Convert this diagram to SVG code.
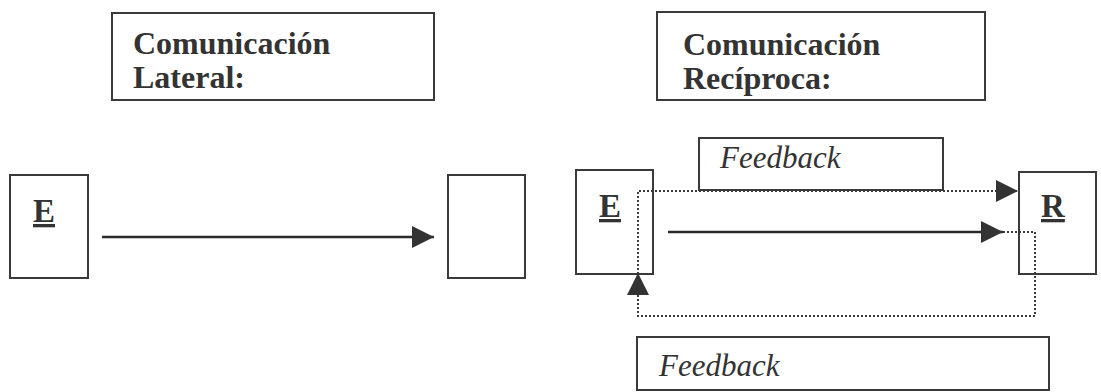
<svg xmlns="http://www.w3.org/2000/svg" width="1101" height="392" viewBox="0 0 1101 392">
  <style>
    .box { fill: #ffffff; stroke: #3a3a3a; stroke-width: 2; }
    .title { font-family: "Liberation Serif", "Times New Roman", serif; font-weight: bold; font-size: 32px; fill: #333333; }
    .letter { font-family: "Liberation Serif", "Times New Roman", serif; font-weight: bold; font-size: 33px; fill: #333333; text-decoration: underline; }
    .fb { font-family: "Liberation Serif", "Times New Roman", serif; font-style: italic; font-size: 31px; fill: #333333; }
    .solid { fill: none; stroke: #2a2a2a; stroke-width: 2.5; }
    .dotted { fill: none; stroke: #3a3a3a; stroke-width: 2; stroke-dasharray: 2 2; }
  </style>
  <defs>
    <!-- filled triangular arrowhead, tip on the path end -->
    <marker id="head" viewBox="0 0 22 22" refX="22" refY="11" markerWidth="22" markerHeight="22" markerUnits="userSpaceOnUse" orient="auto">
      <path d="M0,0 L22,11 L0,22 Z" fill="#333333"/>
    </marker>
  </defs>

  <rect width="1101" height="392" fill="#ffffff"/>

  <!-- Section headings -->
  <g id="title-lateral">
    <rect class="box" x="112" y="13" width="322" height="87"/>
    <text class="title" x="133" y="54">Comunicación</text>
    <text class="title" x="133" y="88">Lateral:</text>
  </g>
  <g id="title-reciproca">
    <rect class="box" x="657" y="12" width="328" height="88"/>
    <text class="title" x="683" y="55">Comunicación</text>
    <text class="title" x="683" y="89">Recíproca:</text>
  </g>

  <!-- Lateral communication -->
  <g id="emisor-lateral">
    <rect class="box" x="10" y="175" width="78" height="103"/>
    <text class="letter" x="33" y="222">E</text>
  </g>
  <g id="receptor-lateral">
    <rect class="box" x="448" y="175" width="77" height="103"/>
  </g>

  <!-- Reciprocal communication -->
  <g id="emisor">
    <rect class="box" x="576" y="170" width="77" height="104"/>
    <text class="letter" x="599" y="217">E</text>
  </g>
  <g id="receptor">
    <rect class="box" x="1019" y="172" width="77" height="102"/>
    <text class="letter" x="1041" y="217">R</text>
  </g>
  <g id="feedback-top">
    <rect class="box" x="699" y="138" width="244" height="52"/>
    <text class="fb" x="720" y="168">Feedback</text>
  </g>
  <g id="feedback-bottom">
    <rect class="box" x="637" y="337" width="412" height="53"/>
    <text class="fb" x="659" y="376">Feedback</text>
  </g>

  <g id="connectors">
    <line class="solid" x1="102" y1="237" x2="434" y2="237" marker-end="url(#head)"/>
    <line class="solid" x1="668" y1="232" x2="1003" y2="232" marker-end="url(#head)"/>
    <path class="dotted" d="M638,274 L638,191 L1018,191" marker-end="url(#head)"/>
    <path class="dotted" d="M1003,232 L1035,232 L1035,316 L638,316 L638,273" marker-end="url(#head)"/>
  </g>
</svg>
